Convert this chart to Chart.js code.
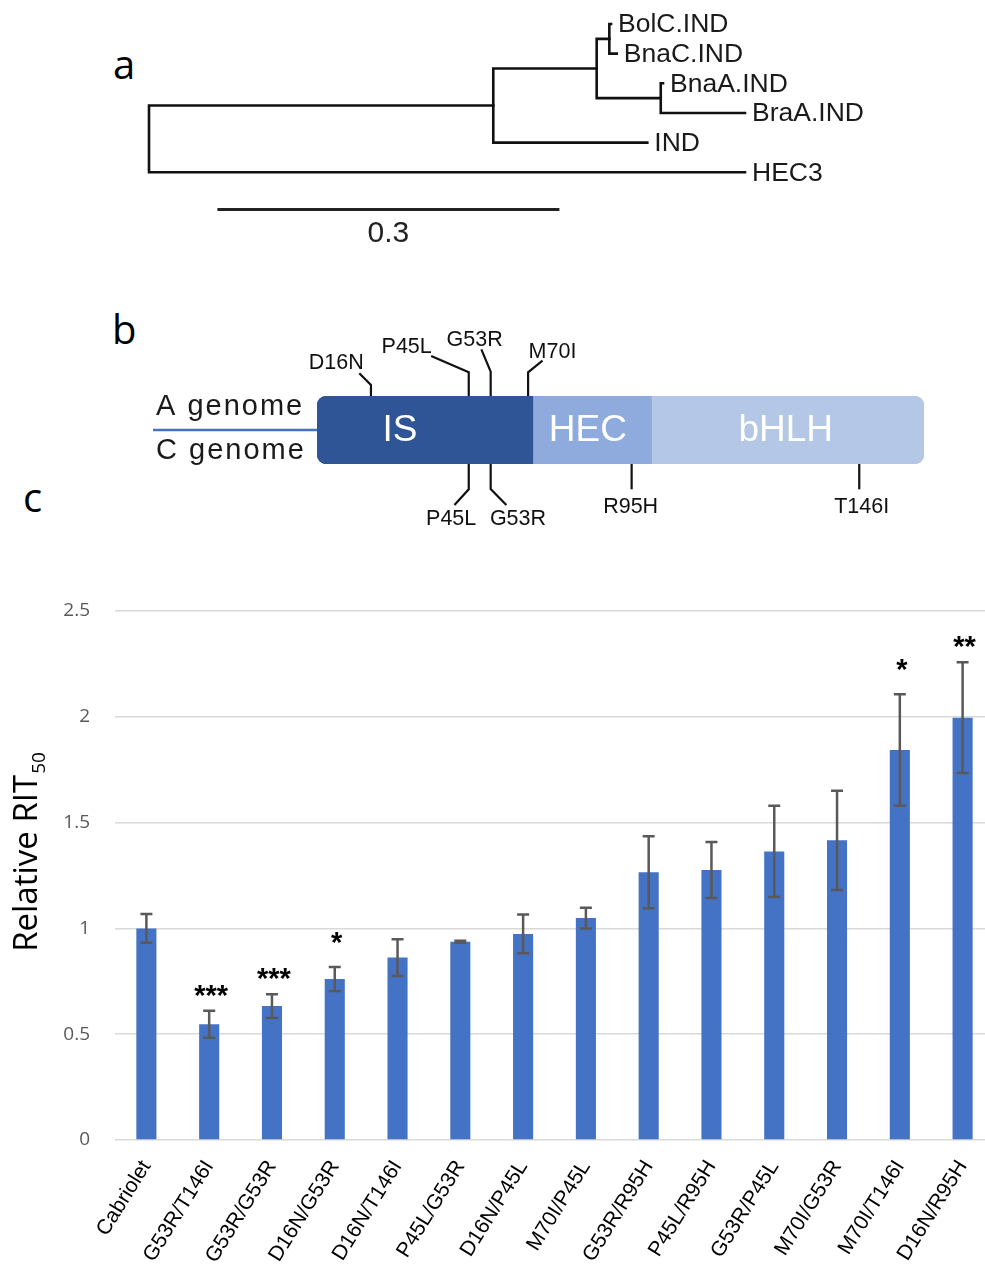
<!DOCTYPE html>
<html lang="en">
<head>
<meta charset="UTF-8">
<title>IND variants - RIT50</title>
<script src="https://cdn.jsdelivr.net/npm/chart.js"></script>
<style>
  html, body { margin: 0; padding: 0; background: #fff; overflow: hidden; }
  .fig { position: relative; width: 985px; height: 1268px; overflow: hidden; }
  .fig canvas { position: absolute; }
  .panel { position: absolute; font-family: "Open Sans", sans-serif; font-size: 40px; line-height: 1; color: #000; }
</style>
</head>
<body>
<div class="fig">
  <div class="panel" style="left:113px;top:44px">a</div>
  <div class="panel" style="left:112px;top:309px">b</div>
  <div class="panel" style="left:23px;top:477px">c</div>
  <canvas id="tree" width="760" height="250" style="left:129px;top:0"></canvas>
  <canvas id="domains" width="800" height="220" style="left:140px;top:320px"></canvas>
  <canvas id="rit" width="1000" height="708" style="left:0;top:560px"></canvas>
</div>

<script>
  // a: tree (node list, parent index, branch length)
  const treeNode = ['root', 'n1', 'n2', 'nC', 'nA', 'BolC.IND', 'BnaC.IND', 'BnaA.IND', 'BraA.IND', 'IND', 'HEC3'];
  const treeParent = [-1, 0, 1, 2, 2, 3, 3, 4, 4, 1, 0];
  const branchLength = [0, 0.302, 0.0907, 0.0111, 0.0562, 0.0015, 0.0065, 0.002, 0.0739, 0.1351, 0.5228];
  const scaleBarLength = 0.3;

  // b: protein domains and mutations (schematic residue positions)
  const domainNames = ['IS', 'HEC', 'bHLH'];
  const domainStart = [0, 64, 99.2];
  const domainEnd = [64, 99.2, 180];
  const mutations = ['D16N', 'P45L', 'G53R', 'M70I', 'P45L', 'G53R', 'R95H', 'T146I'];
  const mutationSite = [16, 45, 51.5, 62.6, 45, 51.5, 93.3, 160.8];
  const mutationGenome = ['A', 'A', 'A', 'A', 'C', 'C', 'C', 'C'];

  // c: relative RIT50
  const genotypes = ['Cabriolet', 'G53R/T146I', 'G53R/G53R', 'D16N/G53R', 'D16N/T146I', 'P45L/G53R', 'D16N/P45L',
                     'M70I/P45L', 'G53R/R95H', 'P45L/R95H', 'G53R/P45L', 'M70I/G53R', 'M70I/T146I', 'D16N/R95H'];
  const rit50 = [1.00, 0.547, 0.633, 0.761, 0.862, 0.937, 0.974, 1.049, 1.265, 1.276, 1.364, 1.416, 1.843, 1.996];
  const rit50Err = [0.068, 0.064, 0.056, 0.057, 0.087, 0.005, 0.092, 0.049, 0.170, 0.132, 0.216, 0.234, 0.263, 0.262];
  const significance = ['', '***', '***', '*', '', '', '', '', '', '', '', '', '*', '**'];
  const yTicks = [0, 0.5, 1, 1.5, 2, 2.5];

  const base = { responsive: false, animation: false, events: [],
                 plugins: { legend: { display: false }, tooltip: { enabled: false } } };

  // ---------- a ----------
  const children = treeNode.map(() => []);
  treeParent.forEach((p, i) => { if (p >= 0) children[p].push(i); });
  const nodeX = [], nodeY = [];
  function placeX(i, x) { nodeX[i] = x + branchLength[i]; children[i].forEach(c => placeX(c, nodeX[i])); }
  let leafRow = 0;
  function placeY(i) {
    if (!children[i].length) { nodeY[i] = leafRow++; return; }
    children[i].forEach(placeY);
    nodeY[i] = children[i].reduce((s, c) => s + nodeY[c], 0) / children[i].length;
  }
  placeX(0, 0);
  placeY(0);

  const treeSets = [];
  children.forEach((kids, i) => {
    if (kids.length !== 2) return;
    const [c0, c1] = kids;
    treeSets.push({
      data: [{ x: nodeX[c0], y: nodeY[c0] }, { x: nodeX[i], y: nodeY[c0] },
             { x: nodeX[i], y: nodeY[c1] }, { x: nodeX[c1], y: nodeY[c1] }],
      borderColor: '#111', borderWidth: 2.6, borderJoinStyle: 'miter', borderCapStyle: 'square'
    });
  });
  const barStart = 0.06, barRow = 6.25;
  treeSets.push({
    data: [{ x: barStart, y: barRow }, { x: barStart + scaleBarLength, y: barRow }],
    borderColor: '#222', borderWidth: 3
  });

  const PX_UNIT = 1140, ROW = 29.66, ORIGIN_X = 20, ROW0_Y = 24;
  const treeLabels = {
    id: 'treeLabels',
    afterDatasetsDraw(chart) {
      const { ctx, scales: { x, y } } = chart;
      ctx.save();
      ctx.fillStyle = '#1a1a1a';
      ctx.textBaseline = 'middle';
      ctx.font = '26.5px "Liberation Sans"';
      treeNode.forEach((name, i) => {
        if (children[i].length) return;
        ctx.fillText(name, x.getPixelForValue(nodeX[i]) + 7, y.getPixelForValue(nodeY[i]) + 1);
      });
      ctx.font = '30px "Liberation Sans"';
      ctx.fillStyle = '#222';
      ctx.textAlign = 'center';
      ctx.fillText(String(scaleBarLength), x.getPixelForValue(barStart + scaleBarLength / 2), y.getPixelForValue(barRow) + 24);
      ctx.restore();
    }
  };

  new Chart(document.getElementById('tree'), {
    type: 'scatter',
    data: { datasets: treeSets.map(d => Object.assign({ showLine: true, pointRadius: 0, tension: 0, clip: false }, d)) },
    options: Object.assign({}, base, {
      layout: { padding: 0 },
      scales: {
        x: { display: false, min: -ORIGIN_X / PX_UNIT, max: (760 - ORIGIN_X) / PX_UNIT },
        y: { display: false, reverse: true, min: -ROW0_Y / ROW, max: (250 - ROW0_Y) / ROW }
      }
    }),
    plugins: [treeLabels]
  });

  // ---------- b ----------
  const domainFill = ['#2F5597', '#8FAADC', '#B4C7E7'];
  // callout geometry in px: stem length, diagonal dx/dy, label offset from line end
  const callout = [
    { stem: 11, dx: -11.7, dy: -11.7, lx: -23, ly: -10 },
    { stem: 23.7, dx: -37.6, dy: -16.3, lx: -24.5, ly: -9.3 },
    { stem: 24.3, dx: -9.3, dy: -22.4, lx: -6.7, ly: -9.3 },
    { stem: 23.7, dx: 14.4, dy: -11.6, lx: 10, ly: -9 },
    { stem: 25.3, dx: -14.3, dy: 15.7, lx: -3.3, ly: 14.3 },
    { stem: 25, dx: 15.7, dy: 16, lx: 11.6, ly: 14.3 },
    { stem: 25.3, dx: 0, dy: 0, lx: -1, ly: 18 },
    { stem: 25.3, dx: 0, dy: 0, lx: 2.4, ly: 18 }
  ];
  const domainLabelAt = [24.6, 80.3, 139];

  const domainDecor = {
    id: 'domainDecor',
    beforeDatasetsDraw(chart) {
      const { ctx, chartArea: a } = chart;
      const mid = (a.top + a.bottom) / 2;
      ctx.save();
      ctx.strokeStyle = '#4472C4';
      ctx.lineWidth = 2.5;
      ctx.beginPath();
      ctx.moveTo(13, mid); ctx.lineTo(a.left + 5, mid);
      ctx.stroke();
      ctx.fillStyle = '#1a1a1a';
      ctx.font = '29px "Liberation Sans"';
      ctx.letterSpacing = '2px';
      ctx.textBaseline = 'middle';
      ctx.fillText('A genome', 16, mid - 23);
      ctx.fillText('C genome', 16, mid + 21);
      ctx.restore();
    },
    afterDatasetsDraw(chart) {
      const { ctx, chartArea: a, scales: { x } } = chart;
      const mid = (a.top + a.bottom) / 2;
      ctx.save();
      ctx.fillStyle = '#fff';
      ctx.font = '37px "Liberation Sans"';
      ctx.textAlign = 'center';
      ctx.textBaseline = 'middle';
      domainNames.forEach((n, i) => ctx.fillText(n, x.getPixelForValue(domainLabelAt[i]), mid + 1));

      ctx.strokeStyle = '#111';
      ctx.lineWidth = 2.2;
      ctx.fillStyle = '#111';
      ctx.font = '21.5px "Liberation Sans"';
      mutations.forEach((m, i) => {
        const g = callout[i];
        const up = mutationGenome[i] === 'A';
        const px = x.getPixelForValue(mutationSite[i]);
        const y0 = up ? a.top : a.bottom;
        const y1 = up ? y0 - g.stem : y0 + g.stem;
        ctx.beginPath();
        ctx.moveTo(px, y0); ctx.lineTo(px, y1); ctx.lineTo(px + g.dx, y1 + g.dy);
        ctx.stroke();
        ctx.fillText(m, px + g.dx + g.lx, y1 + g.dy + g.ly);
      });
      ctx.restore();
    }
  };

  new Chart(document.getElementById('domains'), {
    type: 'bar',
    data: {
      labels: ['protein'],
      datasets: domainNames.map((name, i) => ({
        label: name,
        data: [[domainStart[i], domainEnd[i]]],
        backgroundColor: domainFill[i],
        borderWidth: 0,
        borderSkipped: false,
        borderRadius: i === 0 ? { topLeft: 10, bottomLeft: 10 }
                    : i === domainNames.length - 1 ? { topRight: 10, bottomRight: 10 } : 0,
        grouped: false,
        barPercentage: 1,
        categoryPercentage: 1
      }))
    },
    options: Object.assign({}, base, {
      indexAxis: 'y',
      layout: { padding: { left: 177, right: 16, top: 76, bottom: 76 } },
      scales: {
        x: { display: false, min: 0, max: 180 },
        y: { display: false }
      }
    }),
    plugins: [domainDecor]
  });

  // ---------- c ----------
  const errorBars = {
    id: 'errorBars',
    afterDatasetsDraw(chart) {
      const { ctx, scales: { y } } = chart;
      const bars = chart.getDatasetMeta(0).data;
      ctx.save();
      ctx.strokeStyle = '#595959';
      ctx.lineWidth = 2.5;
      bars.forEach((bar, i) => {
        const top = y.getPixelForValue(rit50[i] + rit50Err[i]);
        const bot = y.getPixelForValue(rit50[i] - rit50Err[i]);
        ctx.beginPath();
        ctx.moveTo(bar.x, top); ctx.lineTo(bar.x, bot);
        ctx.moveTo(bar.x - 6, top); ctx.lineTo(bar.x + 6, top);
        ctx.moveTo(bar.x - 6, bot); ctx.lineTo(bar.x + 6, bot);
        ctx.stroke();
        const s = significance[i];
        if (s) {
          ctx.font = 'bold 29px "Liberation Sans"';
          ctx.fillStyle = '#000';
          ctx.textAlign = 'center';
          ctx.textBaseline = 'alphabetic';
          const m = ctx.measureText(s);
          const cy = top - (s.length > 1 ? 20 : 29);
          ctx.fillText(s, bar.x + 2, cy + (m.actualBoundingBoxAscent - m.actualBoundingBoxDescent) / 2);
        }
      });
      ctx.restore();
    }
  };

  const ritTitle = {
    id: 'ritTitle',
    afterDraw(chart) {
      const { ctx, chartArea: a } = chart;
      const main = 'Relative RIT', sub = '50';
      ctx.save();
      ctx.font = '33px "Open Sans"';
      const w1 = ctx.measureText(main).width;
      ctx.font = '19px "Open Sans"';
      const w2 = ctx.measureText(sub).width;
      ctx.translate(37, (a.top + a.bottom) / 2 - 23);
      ctx.rotate(-Math.PI / 2);
      ctx.fillStyle = '#000';
      ctx.textBaseline = 'alphabetic';
      ctx.font = '33px "Open Sans"';
      ctx.fillText(main, -(w1 + w2) / 2, 0);
      ctx.font = '19px "Open Sans"';
      ctx.fillText(sub, -(w1 + w2) / 2 + w1 + 1, 8);
      ctx.restore();
    }
  };

  new Chart(document.getElementById('rit'), {
    type: 'bar',
    data: {
      labels: genotypes,
      datasets: [{ data: rit50, backgroundColor: '#4472C4', borderWidth: 0, barPercentage: 0.32, categoryPercentage: 1 }]
    },
    options: Object.assign({}, base, {
      layout: { padding: { top: 51, right: 6, bottom: 0, left: 0 } },
      scales: {
        x: {
          grid: { display: false },
          border: { display: false },
          ticks: { color: '#000', font: { family: 'Liberation Sans', size: 21 },
                   minRotation: 58, maxRotation: 58, autoSkip: false, padding: 8 },
          afterFit: s => { s.height = 128; }
        },
        y: {
          min: 0, max: 2.5,
          afterBuildTicks: s => { s.ticks = yTicks.map(v => ({ value: v })); },
          grid: { color: '#d9d9d9', lineWidth: 1.5, drawTicks: false },
          border: { display: false },
          ticks: { color: '#595959', font: { family: 'Open Sans', size: 19 }, padding: 25,
                   callback: v => String(v) },
          afterFit: s => { s.width = 115; }
        }
      }
    }),
    plugins: [errorBars, ritTitle]
  });
</script>
</body>
</html>
